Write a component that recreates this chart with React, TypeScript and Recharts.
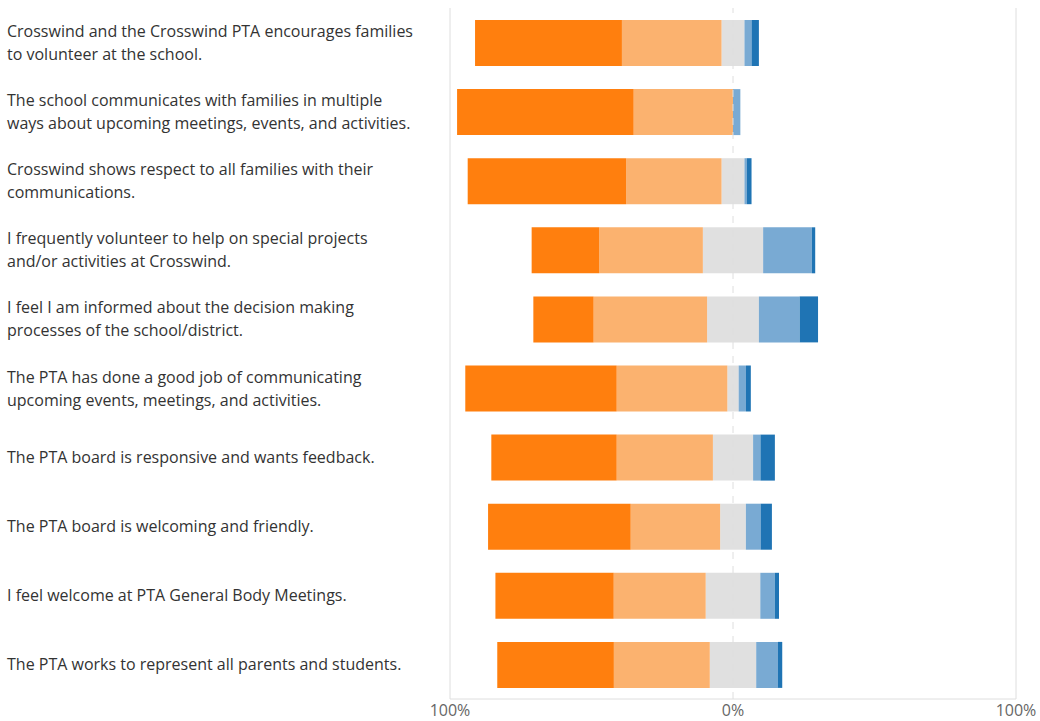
import React from "react";
import {
  BarChart,
  Bar,
  XAxis,
  YAxis,
  ReferenceLine,
} from "recharts";

// survey statements, one per row (explicit line breaks as in the source)
const QUESTIONS = [
  "Crosswind and the Crosswind PTA encourages families\nto volunteer at the school.",
  "The school communicates with families in multiple\nways about upcoming meetings, events, and activities.",
  "Crosswind shows respect to all families with their\ncommunications.",
  "I frequently volunteer to help on special projects\nand/or activities at Crosswind.",
  "I feel I am informed about the decision making\nprocesses of the school/district.",
  "The PTA has done a good job of communicating\nupcoming events, meetings, and activities.",
  "The PTA board is responsive and wants feedback.",
  "The PTA board is welcoming and friendly.",
  "I feel welcome at PTA General Body Meetings.",
  "The PTA works to represent all parents and students.",
];

// share of answers (%), left side (orange) to right side (blue)
const STRONG_LEFT = [51.9, 62.4, 56.0, 23.9, 21.3, 53.5, 44.3, 50.4, 41.8, 41.2];
const LEFT = [35.2, 35.1, 33.7, 36.6, 40.1, 39.1, 34.0, 31.6, 32.5, 33.9];
const NEUTRAL = [8.1, 0, 8.1, 21.3, 18.3, 4.0, 14.2, 9.1, 19.3, 16.4];
const RIGHT = [2.5, 2.6, 0.8, 17.2, 14.4, 2.6, 2.6, 5.2, 5.1, 7.7];
const STRONG_RIGHT = [2.6, 0, 1.7, 1.2, 6.5, 1.7, 5.1, 4.0, 1.5, 1.5];

const X_TICKS = [-100, 0, 100];

const COLORS = {
  strongLeft: "#ff7f0e",
  left: "#fbb26f",
  neutral: "#e0e0e0",
  right: "#79aad3",
  strongRight: "#1f74b4",
};

const data = QUESTIONS.map((name, i) => ({
  name,
  neutralNeg: -NEUTRAL[i] / 2,
  left: -LEFT[i],
  strongLeft: -STRONG_LEFT[i],
  neutralPos: NEUTRAL[i] / 2,
  right: RIGHT[i],
  strongRight: STRONG_RIGHT[i],
}));

const FONT = "'Open Sans', 'Noto Sans', sans-serif";

function QuestionTick(props: any) {
  const { y, payload } = props;
  const lines = String(payload.value).split("\n");
  const lineH = 23;
  const start = -((lines.length - 1) * lineH) / 2;
  return (
    <text
      x={7}
      y={y}
      textAnchor="start"
      fill="#333"
      fontSize={16}
      fontFamily={FONT}
    >
      {lines.map((l, i) => (
        <tspan key={i} x={7} dy={i === 0 ? start + 6 : lineH}>
          {l}
        </tspan>
      ))}
    </text>
  );
}

export default function App() {
  return (
    <div style={{ position: "absolute", left: 0, top: 0, width: 1040, height: 721 }}>
      <BarChart
        width={1040}
        height={721}
        data={data}
        layout="vertical"
        stackOffset="sign"
        margin={{ top: 8, right: 24, bottom: 0, left: 0 }}
      >
        <XAxis
          type="number"
          domain={[-100, 100]}
          ticks={X_TICKS}
          tickFormatter={(v: number) => `${Math.abs(v)}%`}
          axisLine={{ stroke: "#dedede" }}
          tickLine={false}
          tick={{ fill: "#666", fontSize: 16, fontFamily: FONT }}
          tickMargin={0}
          height={22}
          interval={0}
        />
        <YAxis
          type="category"
          dataKey="name"
          width={450}
          axisLine={false}
          tickLine={false}
          tick={<QuestionTick />}
          interval={0}
        />
        <ReferenceLine x={-100} stroke="#dedede" />
        <ReferenceLine x={100} stroke="#dedede" />
        <ReferenceLine x={0} stroke="#dedede" strokeDasharray="7 7" />
        <Bar dataKey="neutralNeg" stackId="a" fill={COLORS.neutral} barSize={46} isAnimationActive={false} />
        <Bar dataKey="left" stackId="a" fill={COLORS.left} barSize={46} isAnimationActive={false} />
        <Bar dataKey="strongLeft" stackId="a" fill={COLORS.strongLeft} barSize={46} isAnimationActive={false} />
        <Bar dataKey="neutralPos" stackId="a" fill={COLORS.neutral} barSize={46} isAnimationActive={false} />
        <Bar dataKey="right" stackId="a" fill={COLORS.right} barSize={46} isAnimationActive={false} />
        <Bar dataKey="strongRight" stackId="a" fill={COLORS.strongRight} barSize={46} isAnimationActive={false} />
      </BarChart>
    </div>
  );
}
